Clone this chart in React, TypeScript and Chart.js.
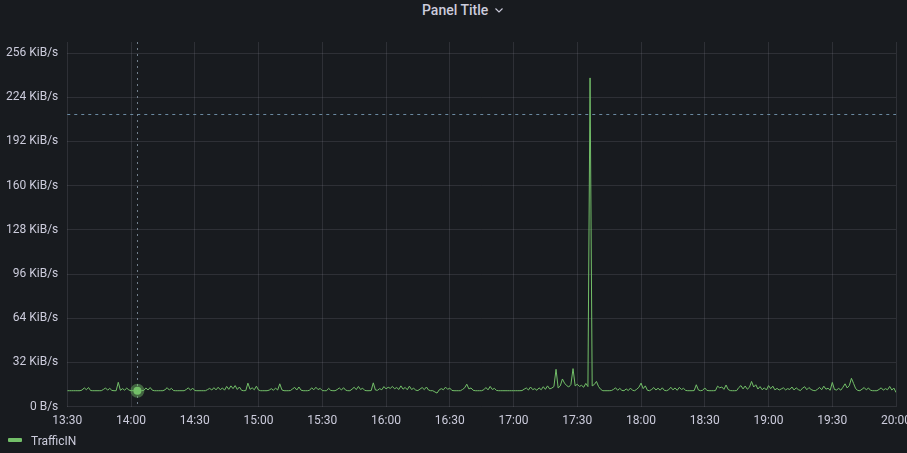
import React, { useEffect, useRef } from "react";
import { Chart, registerables } from "chart.js";

Chart.register(...registerables);

// ---- data ----
const panelTitle = "Panel Title";
const seriesName = "TrafficIN";
// x axis: minutes after 13:30
const xTickMinutes = [0, 30, 60, 90, 120, 150, 180, 210, 240, 270, 300, 330, 360, 390];
const xTickLabels = ["13:30", "14:00", "14:30", "15:00", "15:30", "16:00", "16:30", "17:00", "17:30", "18:00", "18:30", "19:00", "19:30", "20:00"];
const yTicks = [0, 32, 64, 96, 128, 160, 192, 224, 256];
const yTickLabels = ["0 B/s", "32 KiB/s", "64 KiB/s", "96 KiB/s", "128 KiB/s", "160 KiB/s", "192 KiB/s", "224 KiB/s", "256 KiB/s"];
const yMax = 264;
const thresholdValue = 211.6; // KiB/s
const hoverMinute = 33;
// KiB/s, one value per minute from 13:30
const trafficIn = [
  11.5, 11.5, 11.5, 11.5, 11.5, 11.5, 11.5, 12.0, 13.6, 12.2,
  13.8, 11.6, 11.5, 11.5, 11.5, 11.5, 11.5, 12.4, 13.5, 11.9,
  13.2, 11.7, 11.5, 11.5, 17.6, 11.8, 13.0, 11.9, 13.4, 12.0,
  11.5, 11.5, 11.5, 11.5, 11.5, 11.5, 11.7, 13.5, 12.0, 13.8,
  11.9, 11.5, 11.5, 11.5, 11.5, 11.5, 12.2, 13.7, 12.0, 13.2,
  11.6, 11.5, 11.5, 11.5, 11.5, 11.5, 12.4, 13.6, 11.8, 13.4,
  11.6, 11.5, 11.5, 11.5, 11.5, 11.5, 12.3, 13.2, 12.0, 13.7,
  12.1, 14.0, 12.2, 13.5, 11.9, 14.6, 12.5, 15.0, 13.0, 15.2,
  12.4, 14.2, 11.8, 11.5, 11.6, 17.0, 12.5, 13.6, 12.2, 14.8,
  12.0, 11.5, 11.5, 11.5, 11.5, 11.9, 13.0, 11.8, 13.4, 12.0,
  16.5, 12.1, 11.5, 11.5, 11.5, 11.6, 12.8, 13.9, 12.0, 14.2,
  11.9, 11.5, 11.5, 11.5, 11.8, 13.6, 12.2, 14.0, 12.3, 13.2,
  11.6, 11.5, 11.5, 13.2, 11.7, 11.5, 11.5, 12.3, 13.5, 12.0,
  13.7, 11.9, 11.5, 11.5, 12.6, 14.0, 12.3, 14.6, 12.4, 13.3,
  11.7, 11.5, 11.5, 11.6, 17.2, 12.0, 11.8, 13.0, 12.2, 14.5,
  12.8, 14.0, 13.2, 14.6, 12.9, 13.8, 12.4, 15.0, 12.6, 13.9,
  12.2, 14.8, 12.4, 13.3, 11.9, 11.6, 12.7, 13.8, 12.3, 14.2,
  12.0, 11.5, 11.5, 10.6, 9.8, 12.1, 13.0, 12.2, 14.1, 12.5,
  13.4, 11.7, 11.5, 11.5, 11.5, 11.5, 12.4, 13.6, 16.2, 12.8,
  13.5, 11.8, 11.5, 11.5, 11.5, 11.5, 12.2, 13.8, 12.1, 14.6,
  12.4, 13.2, 11.7, 11.5, 11.5, 11.5, 11.5, 11.5, 11.5, 11.5,
  11.5, 11.5, 11.5, 11.5, 11.6, 12.6, 13.5, 12.0, 14.2, 12.3,
  13.0, 11.8, 13.6, 12.2, 14.4, 12.5, 15.0, 12.8, 13.4, 14.5,
  27.0, 13.5, 15.0, 20.0, 17.0, 15.2, 14.2, 16.0, 27.5, 15.0,
  16.2, 14.6, 15.4, 14.0, 16.8, 14.5, 238.0, 15.0, 16.0, 18.2,
  14.5, 12.5, 11.5, 11.5, 11.5, 11.5, 11.6, 12.4, 13.6, 11.8,
  13.2, 11.7, 11.5, 12.8, 11.6, 13.4, 11.8, 11.5, 12.6, 14.0,
  17.0, 13.0, 15.0, 11.8, 11.5, 12.4, 13.8, 12.0, 13.3, 11.9,
  13.6, 11.7, 11.5, 12.2, 14.0, 12.1, 13.5, 11.8, 13.9, 12.4,
  13.2, 11.7, 11.5, 11.5, 11.5, 11.6, 15.8, 12.0, 11.5, 11.8,
  13.5, 11.7, 11.5, 11.5, 11.5, 11.6, 14.8, 13.6, 14.2, 12.5,
  15.6, 12.4, 11.6, 11.5, 11.5, 11.6, 13.8, 15.2, 12.8, 14.9,
  12.6, 14.0, 18.2, 14.2, 15.8, 12.7, 14.5, 12.2, 13.6, 12.0,
  15.2, 13.0, 14.8, 12.1, 13.2, 12.0, 12.8, 13.6, 12.1, 13.0,
  12.4, 14.2, 12.0, 13.6, 12.3, 11.6, 13.4, 14.4, 12.2, 13.8,
  12.4, 11.7, 11.5, 12.5, 13.9, 12.2, 14.8, 12.6, 13.3, 11.8,
  17.5, 12.4, 12.0, 13.2, 11.9, 14.0, 16.5, 13.5, 15.2, 20.5,
  16.8, 13.0, 11.7, 11.5, 12.6, 13.8, 12.1, 13.5, 11.8, 11.5,
  11.5, 11.5, 12.4, 13.6, 11.9, 13.0, 12.2, 14.6, 12.0, 13.4,
  10.2,
];

// ---- styles ----
const BG = "#181b1f";
const TEXT = "#ccccdc";
const GRID = "rgba(204,204,220,0.12)";
const GREEN = "#73bf69";
const FONT = "Roboto, 'Noto Sans', sans-serif";

const overlayPlugin = {
  id: "overlay",
  beforeDatasetsDraw(chart: any) {
    const { ctx, chartArea, scales } = chart;
    const x = scales.x;
    const y = scales.y;
    ctx.save();
    // threshold dashed line
    const ty = Math.round(y.getPixelForValue(thresholdValue)) + 0.5;
    ctx.strokeStyle = "rgba(115,150,175,0.9)";
    ctx.lineWidth = 1;
    ctx.setLineDash([3, 4]);
    ctx.beginPath();
    ctx.moveTo(chartArea.left, ty);
    ctx.lineTo(chartArea.right, ty);
    ctx.stroke();
    // crosshair
    const cx = Math.round(x.getPixelForValue(hoverMinute)) + 0.5;
    ctx.strokeStyle = "rgba(130,145,160,0.85)";
    ctx.setLineDash([2, 4]);
    ctx.beginPath();
    ctx.moveTo(cx, chartArea.top);
    ctx.lineTo(cx, chartArea.bottom);
    ctx.stroke();
    ctx.restore();
  },
};

export default function App() {
  const ref = useRef<HTMLCanvasElement | null>(null);

  useEffect(() => {
    if (!ref.current) return;
    const points = trafficIn.map((v, i) => ({ x: i, y: v }));
    const chart = new Chart(ref.current, {
      type: "line",
      data: {
        datasets: [
          {
            label: seriesName,
            data: points,
            borderColor: GREEN,
            borderWidth: 1,
            pointRadius: 0,
            tension: 0,
            fill: false,
          },
          {
            label: "hover",
            data: [{ x: hoverMinute, y: trafficIn[hoverMinute] }],
            showLine: false,
            pointRadius: 4,
            pointBackgroundColor: GREEN,
            pointBorderColor: "rgba(115,191,105,0.45)",
            pointBorderWidth: 6,
          },
        ],
      },
      plugins: [overlayPlugin],
      options: {
        animation: false,
        responsive: false,
        devicePixelRatio: 1,
        layout: { padding: { left: 6, top: 42, right: 0, bottom: 18 } },
        plugins: { legend: { display: false }, tooltip: { enabled: false }, title: { display: false } },
        scales: {
          x: {
            type: "linear",
            min: 0,
            max: 390,
            afterBuildTicks: (s: any) => {
              s.ticks = xTickMinutes.map((v) => ({ value: v }));
            },
            ticks: {
              callback: (_v: any, i: number) => xTickLabels[i],
              autoSkip: false,
              maxRotation: 0,
              color: TEXT,
              font: { family: FONT, size: 12 },
              padding: 7,
            },
            grid: { color: GRID, drawTicks: false },
            border: { display: false },
          },
          y: {
            min: 0,
            max: yMax,
            afterBuildTicks: (s: any) => {
              s.ticks = yTicks.map((v) => ({ value: v }));
            },
            ticks: {
              callback: (_v: any, i: number) => yTickLabels[i],
              color: TEXT,
              font: { family: FONT, size: 12 },
              padding: 9,
            },
            grid: { color: GRID, drawTicks: false },
            border: { display: false },
          },
        },
      },
    } as any);
    return () => chart.destroy();
  }, []);

  return (
    <div style={{ position: "fixed", left: 0, top: 0, width: 907, height: 453, background: BG, overflow: "hidden", fontFamily: FONT }}>
      <div style={{ position: "absolute", left: 422, top: 0, height: 20, lineHeight: "20px", fontSize: 14, fontWeight: 500, color: TEXT, display: "flex", alignItems: "center", whiteSpace: "nowrap" }}>
        <span>{panelTitle}</span>
        <svg width="8" height="5" viewBox="0 0 8 5" style={{ marginLeft: 7, marginTop: 1 }}>
          <path d="M0.5 0.5 L4 4 L7.5 0.5" stroke={TEXT} strokeWidth="1.1" fill="none" />
        </svg>
      </div>
      <canvas ref={ref} width={927} height={453} style={{ position: "absolute", left: -9, top: 0, width: 927, height: 453 }} />
      <div style={{ position: "absolute", left: 8, top: 438, width: 14, height: 4, background: GREEN, borderRadius: 1 }} />
      <div style={{ position: "absolute", left: 31, top: 432, height: 18, lineHeight: "18px", fontSize: 12, color: TEXT, whiteSpace: "nowrap" }}>
        {seriesName}
      </div>
    </div>
  );
}
